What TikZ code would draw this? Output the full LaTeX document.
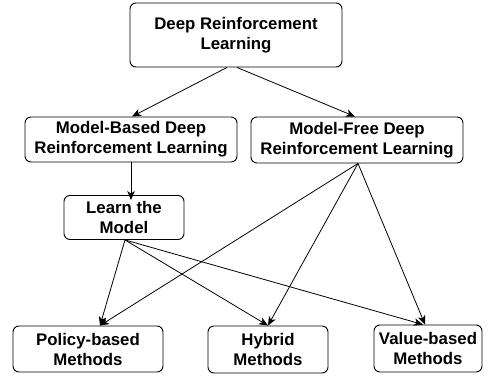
\documentclass[tikz,border=0pt]{standalone}
\usepackage{fontspec}
\setmainfont{Liberation Sans}
\usetikzlibrary{arrows.meta}
\begin{document}
\begin{tikzpicture}[x=1pt,y=-1pt,
  box/.style={draw, line width=0.9pt, rounded corners=6pt, align=center, inner sep=1pt,
    font=\fontsize{16.8}{20}\selectfont\bfseries},
  conn/.style={line width=0.8pt, -{Stealth[length=9pt,width=7.5pt,inset=2.5pt]}}]
\useasboundingbox (0,0) rectangle (491,378);
\node[box, minimum width=212pt, minimum height=64pt] (top) at (236,35) {Deep Reinforcement\\Learning};
\node[box, minimum width=212pt, minimum height=45pt] (mb) at (131,139.5) {Model-Based Deep\\Reinforcement Learning};
\node[box, minimum width=212pt, minimum height=46pt] (mf) at (357,140) {Model-Free Deep\\Reinforcement Learning};
\node[box, minimum width=120pt, minimum height=44pt] (learn) at (124,217.5) {Learn the\\Model};
\node[box, minimum width=150pt, minimum height=46pt] (pol) at (88,349) {Policy-based\\Methods};
\node[box, minimum width=120pt, minimum height=47pt] (hyb) at (268,349.5) {Hybrid\\Methods};
\node[box, minimum width=108pt, minimum height=47pt] (val) at (428,348.5) {Value-based\\Methods};
\coordinate (lt) at ([yshift=-5pt]mb.south |- learn.north);
\draw[conn] ([xshift=-9pt]top.south) -- ([xshift=1pt]mb.north);
\draw[conn] ([xshift=1pt]top.south) -- ([xshift=-2pt]mf.north);
\draw[conn] (mb.south) -- (lt);
\draw[conn] ([xshift=1pt]mf.south) -- ([xshift=12pt]pol.north);
\draw[conn] ([xshift=1pt]mf.south) -- (hyb.north);
\draw[conn] ([xshift=1pt]mf.south) -- ([xshift=-3pt]val.north);
\draw[conn] ([xshift=1pt]learn.south) -- ([xshift=12pt]pol.north);
\draw[conn] ([xshift=1pt]learn.south) -- (hyb.north);
\draw[conn] ([xshift=1pt]learn.south) -- ([xshift=-5pt]val.north);
\end{tikzpicture}
\end{document}
